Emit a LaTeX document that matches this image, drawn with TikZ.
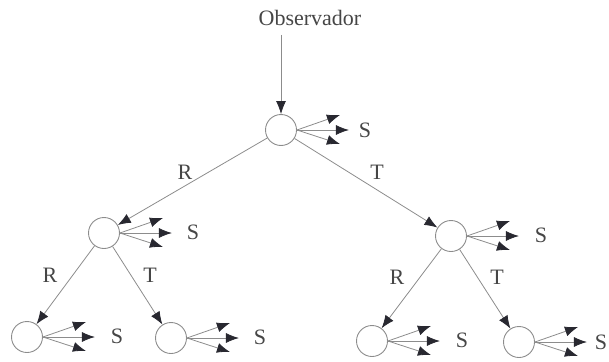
\documentclass[tikz,border=0pt]{standalone}
\usepackage{fontspec}
\setmainfont{Liberation Serif}
\usepackage{xcolor}
\usetikzlibrary{arrows.meta}
\definecolor{linegray}{RGB}{140, 140, 140}
\definecolor{tipdark}{RGB}{40, 40, 48}
\definecolor{textgray}{RGB}{70, 70, 70}

\begin{document}
\begin{tikzpicture}[
    x=1pt, y=-1pt,
    state/.style={circle, draw=linegray, line width=0.9pt, fill=white, minimum size=31pt, inner sep=0pt},
    arrow/.style={-{Latex[length=13pt, width=10pt, color=tipdark]}, line width=0.8pt, color=linegray},
    fan/.style={-{Latex[length=13pt, width=10pt, color=tipdark]}, line width=0.8pt, color=linegray},
    lab/.style={font=\fontsize{22}{26}\selectfont, text=textgray, inner sep=0pt}
]
    \useasboundingbox (0,0) rectangle (609,361);

    % observer and tree of interactions
    \node[lab] (obs) at (310,18) {Observador};
    \node[state] (root) at (281,130) {};
    \node[state] (nR) at (104,233) {};
    \node[state] (nT) at (451,236) {};
    \node[state] (nRR) at (27,337) {};
    \node[state] (nRT) at (171,338) {};
    \node[state] (nTR) at (372,341) {};
    \node[state] (nTT) at (519,342) {};

    % scattered parts
    \node[lab] (root-s) at (365,130) {S};
    \node[lab] (nR-s) at (193,232) {S};
    \node[lab] (nT-s) at (541,235) {S};
    \node[lab] (nRR-s) at (117,336) {S};
    \node[lab] (nRT-s) at (260,337) {S};
    \node[lab] (nTR-s) at (462,340) {S};
    \node[lab] (nTT-s) at (601,342) {S};

    \path[fan] (root.east) edge ++(43,-15) edge ++(52,0) edge ++(43,14);
    \path[fan] (nR.east) edge ++(43,-15) edge ++(52,0) edge ++(43,14);
    \path[fan] (nT.east) edge ++(43,-15) edge ++(52,0) edge ++(43,14);
    \path[fan] (nRR.east) edge ++(43,-15) edge ++(52,0) edge ++(43,14);
    \path[fan] (nRT.east) edge ++(43,-15) edge ++(52,0) edge ++(43,14);
    \path[fan] (nTR.east) edge ++(43,-15) edge ++(52,0) edge ++(43,14);
    \path[fan] (nTT.east) edge ++(43,-15) edge ++(52,0) edge ++(43,14);

    % reflected and transmitted paths
    \draw[arrow] ([yshift=-9pt]obs.south -| root) -- (root);
    \draw[arrow] (root) -- (nR);
    \draw[arrow] (root) -- (nT);
    \draw[arrow] (nR) -- (nRR);
    \draw[arrow] (nR) -- (nRT);
    \draw[arrow] (nT) -- (nTR);
    \draw[arrow] (nT) -- (nTT);

    \node[lab] (rootR) at (185,172) {R};
    \node[lab] (rootT) at (377,172) {T};
    \node[lab] (nRR-l) at (50,275) {R};
    \node[lab] (nRT-l) at (150,275) {T};
    \node[lab] (nTR-l) at (397,277) {R};
    \node[lab] (nTT-l) at (497,277) {T};

\end{tikzpicture}
\end{document}
